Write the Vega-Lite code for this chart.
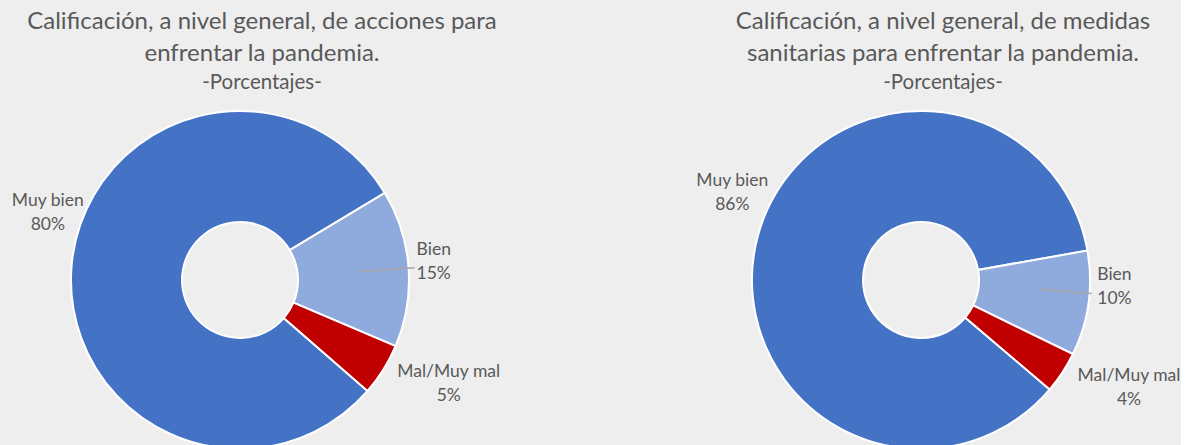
{
  "$schema": "https://vega.github.io/schema/vega-lite/v6.json",
  "background": "#EEEEEE",
  "padding": {"top": 9, "left": 0, "right": 0, "bottom": 0},
  "autosize": {"type": "pad"},
  "spacing": 201,
  "bounds": "flush",
  "config": {"view": {"stroke": null}, "font": "Lato"},
  "hconcat": [
    {
      "width": 480,
      "height": 360,
      "title": {
        "text": ["Calificación, a nivel general, de acciones para", "enfrentar la pandemia."],
        "subtitle": "-Porcentajes-",
        "fontSize": 24, "fontWeight": "normal", "color": "#595959", "lineHeight": 32,
        "subtitleFontSize": 20.5, "subtitleColor": "#595959", "subtitlePadding": 7,
        "anchor": "middle", "dx": 22, "offset": 7, "font": "Lato", "subtitleFont": "Lato"
      },
      "data": {"values": [
        {"category": "Muy bien", "value": 80},
        {"category": "Bien", "value": 15},
        {"category": "Mal/Muy mal", "value": 5}
      ]},
      "transform": [
        {"stack": "value", "groupby": [], "sort": [{"field": "category"}], "as": ["v0", "v1"]},
        {"calculate": "(datum.v0 + datum.v1) / 2", "as": "mid"},
        {"calculate": "datum.category + '\\n' + datum.value + '%'", "as": "label"}
      ],
      "layer": [
        {
          "mark": {"type": "arc", "outerRadius": 169, "innerRadius": 58, "stroke": "white", "strokeWidth": 2},
          "encoding": {
            "theta": {"field": "v0", "type": "quantitative", "stack": null, "scale": {"domain": [0, 100], "range": [1.030, 7.313]}},
            "theta2": {"field": "v1"},
            "color": {"field": "category", "type": "nominal", "scale": {"domain": ["Muy bien", "Bien", "Mal/Muy mal"], "range": ["#4472C4", "#8FAADC", "#C00000"]}, "legend": null}
          }
        },
        {
          "transform": [{"filter": "datum.category === 'Bien'"}],
          "mark": {"type": "arc", "outerRadius": 175, "innerRadius": 117, "stroke": "#A6A6A6", "strokeWidth": 1.5, "fill": null},
          "encoding": {
            "theta": {"field": "mid", "type": "quantitative", "stack": null, "scale": {"domain": [0, 100], "range": [1.030, 7.313]}},
            "theta2": {"field": "mid"}
          }
        },
        {
          "transform": [{"filter": "datum.category === 'Muy bien'"}],
          "mark": {"type": "text", "radius": 216, "align": "center", "baseline": "middle", "dx": 23, "dy": -60, "lineBreak": "\n", "lineHeight": 24, "fontSize": 17.5, "color": "#595959"},
          "encoding": {
            "theta": {"field": "mid", "type": "quantitative", "stack": null, "scale": {"domain": [0, 100], "range": [1.030, 7.313]}},
            "text": {"field": "label"}
          }
        },
        {
          "transform": [{"filter": "datum.category === 'Bien'"}],
          "mark": {"type": "text", "radius": 178, "align": "left", "baseline": "middle", "dx": -1, "dy": -18, "lineBreak": "\n", "lineHeight": 24, "fontSize": 17.5, "color": "#595959"},
          "encoding": {
            "theta": {"field": "mid", "type": "quantitative", "stack": null, "scale": {"domain": [0, 100], "range": [1.030, 7.313]}},
            "text": {"field": "label"}
          }
        },
        {
          "transform": [{"filter": "datum.category === 'Mal/Muy mal'"}],
          "mark": {"type": "text", "radius": 232, "align": "center", "baseline": "middle", "dx": 12, "dy": -31, "lineBreak": "\n", "lineHeight": 24, "fontSize": 17.5, "color": "#595959"},
          "encoding": {
            "theta": {"field": "mid", "type": "quantitative", "stack": null, "scale": {"domain": [0, 100], "range": [1.030, 7.313]}},
            "text": {"field": "label"}
          }
        }
      ]
    },
    {
      "width": 480,
      "height": 360,
      "title": {
        "text": ["Calificación, a nivel general, de medidas", "sanitarias para enfrentar la pandemia."],
        "subtitle": "-Porcentajes-",
        "fontSize": 24, "fontWeight": "normal", "color": "#595959", "lineHeight": 32,
        "subtitleFontSize": 20.5, "subtitleColor": "#595959", "subtitlePadding": 7,
        "anchor": "middle", "dx": 22, "offset": 7, "font": "Lato", "subtitleFont": "Lato"
      },
      "data": {"values": [
        {"category": "Muy bien", "value": 86},
        {"category": "Bien", "value": 10},
        {"category": "Mal/Muy mal", "value": 4}
      ]},
      "transform": [
        {"stack": "value", "groupby": [], "sort": [{"field": "category"}], "as": ["v0", "v1"]},
        {"calculate": "(datum.v0 + datum.v1) / 2", "as": "mid"},
        {"calculate": "datum.category + '\\n' + datum.value + '%'", "as": "label"}
      ],
      "layer": [
        {
          "mark": {"type": "arc", "outerRadius": 169, "innerRadius": 58, "stroke": "white", "strokeWidth": 2},
          "encoding": {
            "theta": {"field": "v0", "type": "quantitative", "stack": null, "scale": {"domain": [0, 100], "range": [1.396, 7.679]}},
            "theta2": {"field": "v1"},
            "color": {"field": "category", "type": "nominal", "scale": {"domain": ["Muy bien", "Bien", "Mal/Muy mal"], "range": ["#4472C4", "#8FAADC", "#C00000"]}, "legend": null}
          }
        },
        {
          "transform": [{"filter": "datum.category === 'Bien'"}],
          "mark": {"type": "arc", "outerRadius": 171, "innerRadius": 118, "stroke": "#A6A6A6", "strokeWidth": 1.5, "fill": null, "thetaOffset": -0.06, "theta2Offset": -0.06},
          "encoding": {
            "theta": {"field": "mid", "type": "quantitative", "stack": null, "scale": {"domain": [0, 100], "range": [1.396, 7.679]}},
            "theta2": {"field": "mid"}
          }
        },
        {
          "transform": [{"filter": "datum.category === 'Muy bien'"}],
          "mark": {"type": "text", "radius": 209, "align": "center", "baseline": "middle", "dx": 13, "dy": -44, "lineBreak": "\n", "lineHeight": 24, "fontSize": 17.5, "color": "#595959"},
          "encoding": {
            "theta": {"field": "mid", "type": "quantitative", "stack": null, "scale": {"domain": [0, 100], "range": [1.396, 7.679]}},
            "text": {"field": "label"}
          }
        },
        {
          "transform": [{"filter": "datum.category === 'Bien'"}],
          "mark": {"type": "text", "radius": 177, "align": "left", "baseline": "middle", "dx": 1, "dy": -30, "lineBreak": "\n", "lineHeight": 24, "fontSize": 17.5, "color": "#595959"},
          "encoding": {
            "theta": {"field": "mid", "type": "quantitative", "stack": null, "scale": {"domain": [0, 100], "range": [1.396, 7.679]}},
            "text": {"field": "label"}
          }
        },
        {
          "transform": [{"filter": "datum.category === 'Mal/Muy mal'"}],
          "mark": {"type": "text", "radius": 233, "align": "center", "baseline": "middle", "dx": 13, "dy": -32, "lineBreak": "\n", "lineHeight": 24, "fontSize": 17.5, "color": "#595959"},
          "encoding": {
            "theta": {"field": "mid", "type": "quantitative", "stack": null, "scale": {"domain": [0, 100], "range": [1.396, 7.679]}},
            "text": {"field": "label"}
          }
        }
      ]
    }
  ]
}
